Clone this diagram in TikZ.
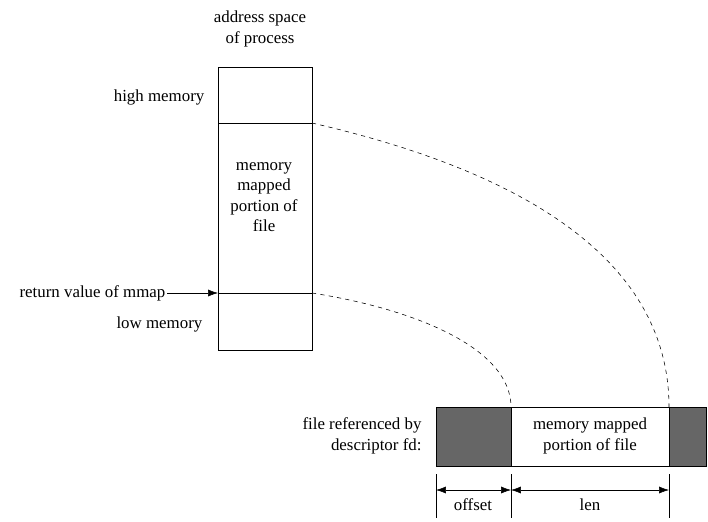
\documentclass[tikz,border=0pt]{standalone}
\usepackage{fontspec}
\setmainfont{Liberation Serif}
\usetikzlibrary{arrows.meta}

\begin{document}
\begin{tikzpicture}[x=0.025cm,y=-0.025cm,>={Latex[length=7pt,width=5pt]},
                    font=\fontsize{12}{14.5}\selectfont,
                    txt/.style={align=center,inner sep=1pt},
                    gap/.style={dashed,thin}]
\useasboundingbox (0,0) rectangle (708,521);

%%%% address space
\node[txt] (title) at (260,29) {address space\\of process};
\draw (218,67) rectangle (312,350);
\draw (218,123) -- (312,123);
\draw (218,293) -- (312,293);
\coordinate (hi) at (312,123);
\coordinate (lo) at (312,293);
\coordinate (ret) at (218,293);

\node[txt] (mapped) at (264,197) {memory\\mapped\\portion of\\file};
\node[txt,left] (high) at (206,97) {high memory};
\node[txt,left] (low) at (204,324) {low memory};
\node[txt,left] (mmap) at (167,293) {return value of mmap};
\draw[->] (mmap) -- (ret);

%%%% file
\fill[black!60] (436,407) rectangle (511,466);
\fill[black!60] (669,407) rectangle (706,466);
\draw (436,407) rectangle (706,466);
\draw (511,407) -- (511,466);
\draw (669,407) -- (669,466);
\coordinate (fa) at (511,407);
\coordinate (fb) at (669,407);
\node[txt] (portion) at (590,436) {memory mapped\\portion of file};
\node[txt,align=right] (fd) at (362,436) {file referenced by\\descriptor fd:};

%%%% dashed curves
\draw[gap] (hi) .. controls (560,180) and (669,280) .. (fb);
\draw[gap] (lo) .. controls (420,310) and (511,350) .. (fa);

%%%% offset / len
\foreach \x in {436,511,669} \draw (\x,474) -- (\x,518);
\coordinate (o1) at (436,490);
\coordinate (o2) at (511,490);
\coordinate (o3) at (669,490);
\draw[<->] (o1) -- (o2);
\draw[<->] (o2) -- (o3);
\node[txt] (offset) at (473,505) {offset};
\node[txt] (len) at (590,505) {len};
\end{tikzpicture}
\end{document}
